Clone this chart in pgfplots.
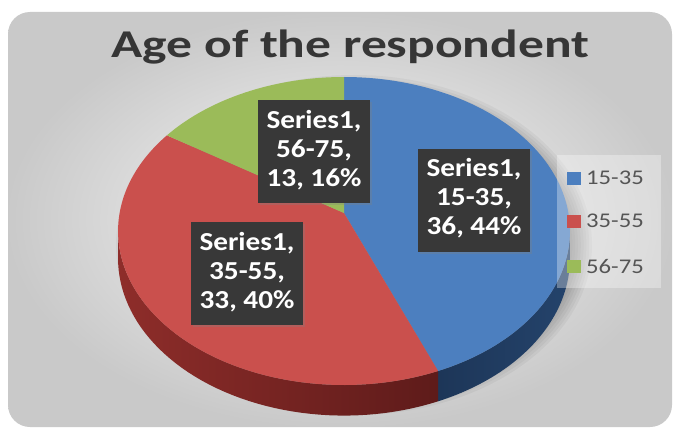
\documentclass[border=0pt]{standalone}
\usepackage{fontspec}
\setmainfont{Carlito}
\usepackage{pgfplots}
\pgfplotsset{compat=1.18}
\usepackage{pgfplotstable}
\usetikzlibrary{shadows}

\definecolor{cBlue}{HTML}{4C7FBF}
\definecolor{cRed}{HTML}{CA504D}
\definecolor{cGreen}{HTML}{9BBB59}
\definecolor{cBlueDark}{HTML}{1D3658}
\definecolor{cBlueDark2}{HTML}{24436B}
\definecolor{cRedDark}{HTML}{74211F}
\definecolor{cRedDarkL}{HTML}{8E2D2A}
\definecolor{cRedDarkR}{HTML}{5E1B1A}
\definecolor{cLabel}{HTML}{383838}
\definecolor{cTitle}{HTML}{363636}
\definecolor{cLeg}{HTML}{555555}

\pgfplotstableread{
label value
15-35 36
35-55 33
56-75 13
}\agedata

\begin{document}
\begin{tikzpicture}
\pgfplotstablegetelem{0}{value}\of\agedata \pgfmathsetmacro{\vA}{\pgfplotsretval}
\pgfplotstablegetelem{1}{value}\of\agedata \pgfmathsetmacro{\vB}{\pgfplotsretval}
\pgfplotstablegetelem{2}{value}\of\agedata \pgfmathsetmacro{\vC}{\pgfplotsretval}
\pgfmathsetmacro{\tot}{\vA+\vB+\vC}
\pgfmathsetmacro{\aB}{360*(\vA/\tot)}
\pgfmathsetmacro{\aC}{360*((\vA+\vB)/\tot)}
\pgfmathtruncatemacro{\pA}{round(100*(\vA/\tot))}
\pgfmathtruncatemacro{\pB}{round(100*(\vB/\tot))}
\pgfmathtruncatemacro{\pC}{round(100*(\vC/\tot))}
\pgfmathtruncatemacro{\iA}{\vA}
\pgfmathtruncatemacro{\iB}{\vB}
\pgfmathtruncatemacro{\iC}{\vC}
% perspective pie geometry (pixels)
\def\cx{344}\def\cyA{217}\def\R{224.4}\def\S{151.9}\def\kk{0.1169}\def\T{27}
\pgfmathsetmacro{\phR}{acos(-\kk)}
\pgfmathsetmacro{\phL}{360-\phR}
\begin{axis}[x=1bp,y=1bp,xmin=0,xmax=678,ymin=0,ymax=430,
  hide axis,clip=false,scale only axis,
  declare function={
    piex(\p)=\cx+\R*sin(\p)/(1+\kk*cos(\p));
    piey(\p)=\cyA+\S*cos(\p)/(1+\kk*cos(\p));
    piew(\p)=1/(1+\kk*cos(\p));
  }]
% background
\fill[white] (axis cs:0,0) rectangle (axis cs:678,430);
\shade[rounded corners=22bp,inner color=gray!5,outer color=gray!42,shading=radial]
  (axis cs:8,3) rectangle (axis cs:672,418);
% shadow of pie
\pgfplotsinvokeforeach{0,...,9}{
  \fill[black,opacity=0.04] (axis cs:\cx+10,\cyA-32) ellipse [x radius=238-2.8*#1, y radius=170-2.8*#1];
}
% sides
\addplot[left color=cBlueDark,right color=cBlueDark2,draw=none,no markers,variable=\q,
  samples at={0,1,...,50,50.001,51,52,...,100}]
  ({piex(\phR+(\aB-\phR)*(1-abs(1-\q/50)))},
   {piey(\phR+(\aB-\phR)*(1-abs(1-\q/50)))-\T*(\q>50)*piew(\phR+(\aB-\phR)*(1-abs(1-\q/50)))});
\addplot[left color=cRedDarkL,right color=cRedDarkR,draw=none,no markers,variable=\q,
  samples at={0,1,...,50,50.001,51,52,...,100}]
  ({piex(\aB+(\phL-\aB)*(1-abs(1-\q/50)))},
   {piey(\aB+(\phL-\aB)*(1-abs(1-\q/50)))-\T*(\q>50)*piew(\aB+(\phL-\aB)*(1-abs(1-\q/50)))});
% top faces
\addplot[fill=cBlue,draw=none,no markers,variable=\q,samples at={0,1,...,101}]
  ({\cx+(piex(0+(\aB-0)*min(\q,100)/100)-\cx)*(\q<100.5)},
   {\cyA+(piey(0+(\aB-0)*min(\q,100)/100)-\cyA)*(\q<100.5)});
\addplot[fill=cRed,draw=none,no markers,variable=\q,samples at={0,1,...,101}]
  ({\cx+(piex(\aB+(\aC-\aB)*min(\q,100)/100)-\cx)*(\q<100.5)},
   {\cyA+(piey(\aB+(\aC-\aB)*min(\q,100)/100)-\cyA)*(\q<100.5)});
\addplot[fill=cGreen,draw=none,no markers,variable=\q,samples at={0,1,...,101}]
  ({\cx+(piex(\aC+(360-\aC)*min(\q,100)/100)-\cx)*(\q<100.5)},
   {\cyA+(piey(\aC+(360-\aC)*min(\q,100)/100)-\cyA)*(\q<100.5)});
% title
\node[anchor=base,text=cTitle,inner sep=0pt] at (axis cs:350.5,373)
  {\scalebox{1.31}[1]{\bfseries\fontsize{39.5}{46}\selectfont Age of the respondent}};
% legend
\fill[white,opacity=0.32] (axis cs:557,142) rectangle (axis cs:661,275);
\fill[cBlue] (axis cs:567,245.5) rectangle (axis cs:581,258.5);
\fill[cRed] (axis cs:567,202.5) rectangle (axis cs:581,215.5);
\fill[cGreen] (axis cs:567,157) rectangle (axis cs:581,170);
\tikzset{lg/.style={anchor=west,text=cLeg,inner sep=0pt}}
\node[lg] at (axis cs:586,252) {\scalebox{1.18}[1]{\fontsize{21}{24}\selectfont 15-35}};
\node[lg] at (axis cs:586,209) {\scalebox{1.18}[1]{\fontsize{21}{24}\selectfont 35-55}};
\node[lg] at (axis cs:586,163.5) {\scalebox{1.18}[1]{\fontsize{21}{24}\selectfont 56-75}};
% data labels
\tikzset{dl/.style={fill=cLabel,text=white,inner sep=0pt,minimum width=112bp,minimum height=103bp,
  drop shadow={opacity=0.3,shadow xshift=2bp,shadow yshift=-2bp}}}
\newcommand{\dltext}[1]{\scalebox{1.13}[1]{\bfseries\fontsize{26}{29}\selectfont
  \begin{tabular}{@{}c@{}}#1\end{tabular}}}
\node[dl] at (axis cs:314,278.5) {\dltext{Series1,\\56-75,\\\iC, \pC\%}};
\node[dl] at (axis cs:474,230) {\dltext{Series1,\\15-35,\\\iA, \pA\%}};
\node[dl] at (axis cs:247,156.5) {\dltext{Series1,\\35-55,\\\iB, \pB\%}};
\end{axis}
\end{tikzpicture}
\end{document}
